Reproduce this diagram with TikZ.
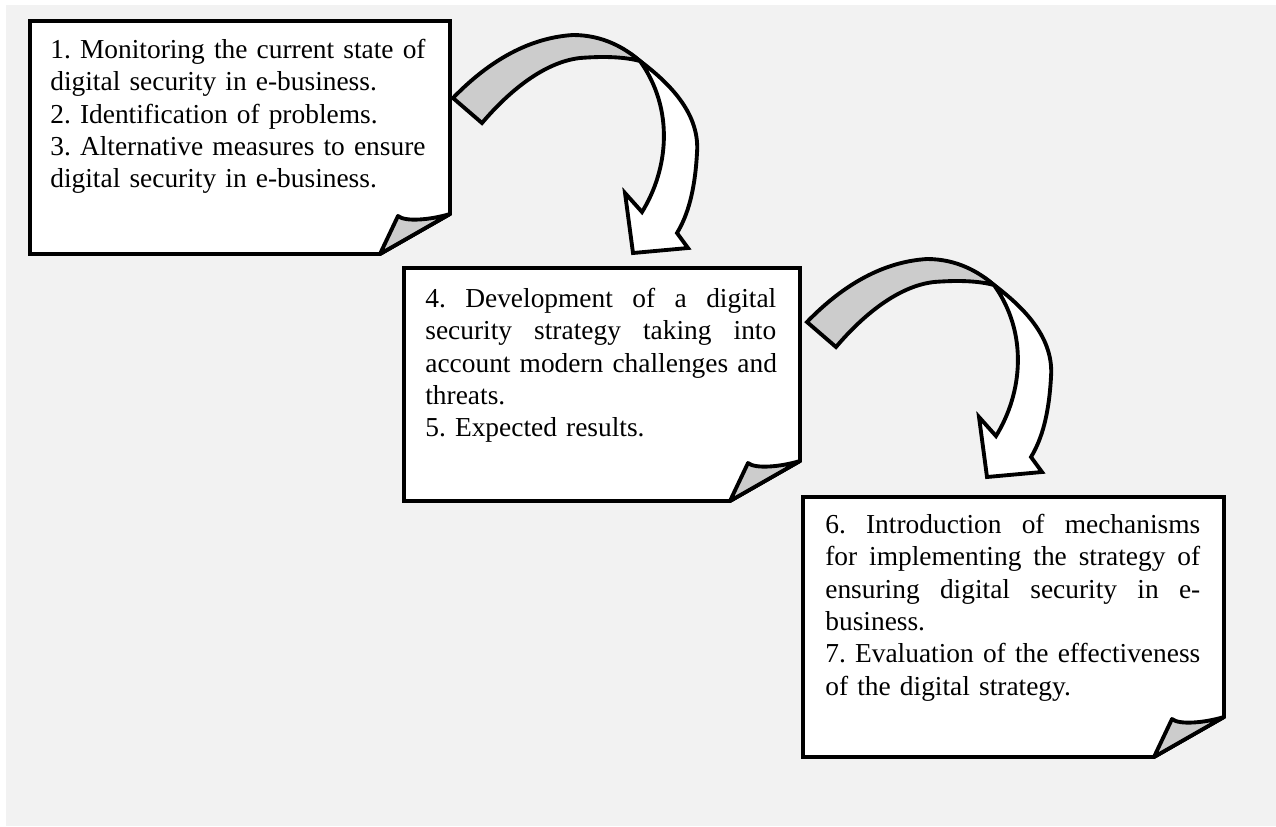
\documentclass[tikz,border=0pt]{standalone}
\usepackage{fontspec}
\setmainfont{Liberation Serif}
\usetikzlibrary{calc}

\frenchspacing
\newcommand{\jline}[2][7.5cm]{\leavevmode\hbox to #1{#2}}

\begin{document}
\begin{tikzpicture}[x=0.02cm,y=-0.02cm,
    page/.style={draw=black,fill=white,line width=2.2pt},
    flap/.style={draw=black,fill=gray!40,line width=2.2pt,line join=round},
    back/.style={draw=black,fill=gray!40,line width=2.2pt},
    front/.style={draw=black,fill=white,line width=2.2pt},
    txt/.style={anchor=north west,inner sep=0pt,align=left,text width=9cm,
      font=\fontsize{15.6}{18.4}\selectfont}]
        % Background
        \useasboundingbox (0,0) rectangle (1276,826);
        \fill[white] (0,0) rectangle (1276,826);
        \fill[black!5] (6,5) rectangle (1276,826);

        % Draw the sheets with a folded corner
        \foreach \xl/\yt/\xr/\yb in {30/21/450/254, 404/268/800/501, 803/497/1224/757}{
          \draw[page] (\xl,\yt) -- (\xr,\yt) -- (\xr,\yb-40) -- (\xr-70,\yb) -- (\xl,\yb) -- cycle;
          \draw[flap] (\xr-70,\yb) -- (\xr-52,\yb-38) .. controls (\xr-45,\yb-32) and (\xr-20,\yb-34) .. (\xr,\yb-40) -- cycle;
        }

        % Draw the curved arrows
        \foreach \dx/\dy in {0/0, 354/224}{
          \begin{scope}[shift={(\dx,\dy)}]
            \coordinate (turn) at (640,61);
            \draw[back] (453,98) .. controls (485,65) and (525,38) .. (573,35)
              .. controls (603,35) and (625,48) .. (turn)
              .. controls (625,57) and (605,56) .. (580,58)
              .. controls (545,62) and (510,90) .. (482,123) -- cycle;
            \draw[front] (turn) .. controls (672,85) and (700,115) .. (697,153)
              .. controls (695,190) and (688,215) .. (677,233)
              -- (688,248) -- (633,253) -- (625,193) -- (642,212)
              .. controls (668,170) and (675,110) .. (turn) -- cycle;
          \end{scope}
        }

        % Texts
        \node[txt] (sheet1) at (50,35.5) {\strut\jline{1. \hfill Monitoring \hfill the \hfill current \hfill state \hfill of}\\
          digital security in e-business.\\
          2. Identification of problems.\\
          \jline{3. \hfill Alternative \hfill measures \hfill to \hfill ensure}\\
          digital security in e-business.};
        \node[txt] (sheet2) at (425,284.4) {\strut\jline[7.02cm]{4. \hfill Development \hfill of \hfill a \hfill digital}\\
          \jline[7.02cm]{security \hfill strategy \hfill taking \hfill into}\\
          \jline[7.02cm]{account \hfill modern \hfill challenges \hfill and}\\
          threats.\\
          5. Expected results.};
        \node[txt] (sheet3) at (825,510.4) {\strut\jline{6. \hfill Introduction \hfill of \hfill mechanisms}\\
          \jline{for \hfill implementing \hfill the \hfill strategy \hfill of}\\
          \jline{ensuring \hfill digital \hfill security \hfill in \hfill e-}\\
          business.\\
          \jline{7. \hfill Evaluation \hfill of \hfill the \hfill effectiveness}\\
          of the digital strategy.};
\end{tikzpicture}
\end{document}
